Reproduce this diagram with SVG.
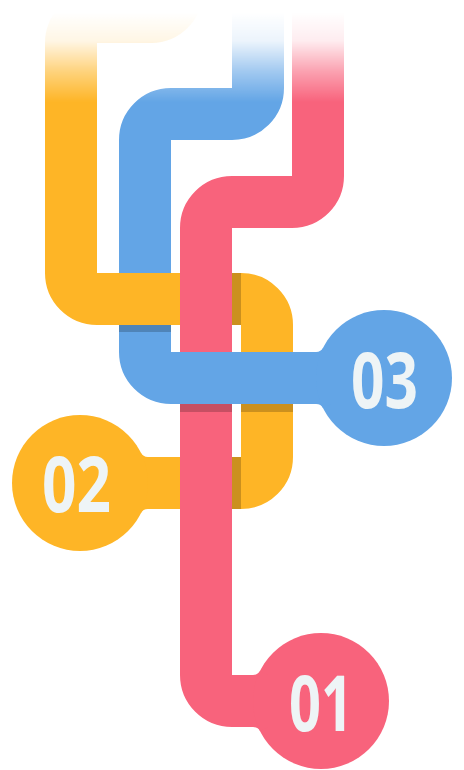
<svg xmlns="http://www.w3.org/2000/svg" width="464" height="770" viewBox="0 0 464 770">
  <style>
    .pipe { fill: none; stroke-width: 52; stroke-linecap: butt; stroke-linejoin: miter; }
    .y { stroke: #FEB526; }
    .b { stroke: #63A5E6; }
    .r { stroke: #F8637C; }
    .yf { fill: #FEB526; }
    .bf { fill: #63A5E6; }
    .rf { fill: #F8637C; }
    .sh { fill: #000; fill-opacity: 0.2; }
    .num { font-family: "Open Sans", "Liberation Sans", sans-serif; font-weight: 700; font-size: 77px; fill: #EEF4F6; }
  </style>
  <defs>
    <linearGradient id="fade" gradientUnits="userSpaceOnUse" x1="0" y1="0" x2="0" y2="102">
      <stop offset="0.12" stop-color="#fff" stop-opacity="0"/>
      <stop offset="0.4" stop-color="#fff" stop-opacity="0.12"/>
      <stop offset="0.7" stop-color="#fff" stop-opacity="0.6"/>
      <stop offset="1" stop-color="#fff" stop-opacity="1"/>
    </linearGradient>
    <mask id="topfade" maskUnits="userSpaceOnUse" x="0" y="0" width="464" height="770">
      <rect x="0" y="0" width="464" height="770" fill="url(#fade)"/>
    </mask>
  </defs>
  <rect width="464" height="770" fill="#fff"/>
  <g id="connectors" mask="url(#topfade)">
    <path id="pipe-03" class="pipe b" d="M258,-40 V88 A26,26 0 0 1 232,114 H171 A26,26 0 0 0 145,140 V352 A26,26 0 0 0 171,378 H330"/>
    <rect class="sh" x="119" y="325" width="52" height="7"/>
    <path id="pipe-02" class="pipe y" d="M177,-40 V-9 A26,26 0 0 1 151,17 H97 A26,26 0 0 0 71,43 V273 A26,26 0 0 0 97,299 H241 A26,26 0 0 1 267,325 V457 A26,26 0 0 1 241,483 H110"/>
    <path id="pipe-01" class="pipe r" d="M318,-40 V176 A26,26 0 0 1 292,202 H232 A26,26 0 0 0 206,228 V675 A26,26 0 0 0 232,701 H300"/>
    <rect class="sh" x="232" y="273" width="9" height="52"/>
    <rect class="sh" x="232" y="457" width="9" height="52"/>
    <path class="pipe b" d="M174,378 H330"/>
    <rect class="sh" x="180" y="404" width="52" height="8"/>
    <rect class="sh" x="241" y="404" width="52" height="8"/>
  </g>
  <g id="node-01">
    <circle class="rf" cx="321" cy="701" r="68"/>
    <path class="rf" d="M253,675 A8,8 0 0 0 260.2,670.6 L268,675 Z M253,727 A8,8 0 0 1 260.2,731.4 L268,727 Z"/>
    <text class="num" x="289" y="731" textLength="64" lengthAdjust="spacingAndGlyphs">01</text>
  </g>
  <g id="node-02">
    <circle class="yf" cx="80" cy="483" r="68"/>
    <path class="yf" d="M148,457 A8,8 0 0 1 140.8,452.6 L133,457 Z M148,509 A8,8 0 0 0 140.8,513.4 L133,509 Z"/>
    <text class="num" x="42" y="512" textLength="69" lengthAdjust="spacingAndGlyphs">02</text>
  </g>
  <g id="node-03">
    <circle class="bf" cx="384" cy="378" r="68"/>
    <path class="bf" d="M316,352 A8,8 0 0 0 323.2,347.6 L331,352 Z M316,404 A8,8 0 0 1 323.2,408.4 L331,404 Z"/>
    <text class="num" x="351" y="408" textLength="67" lengthAdjust="spacingAndGlyphs">03</text>
  </g>
</svg>
